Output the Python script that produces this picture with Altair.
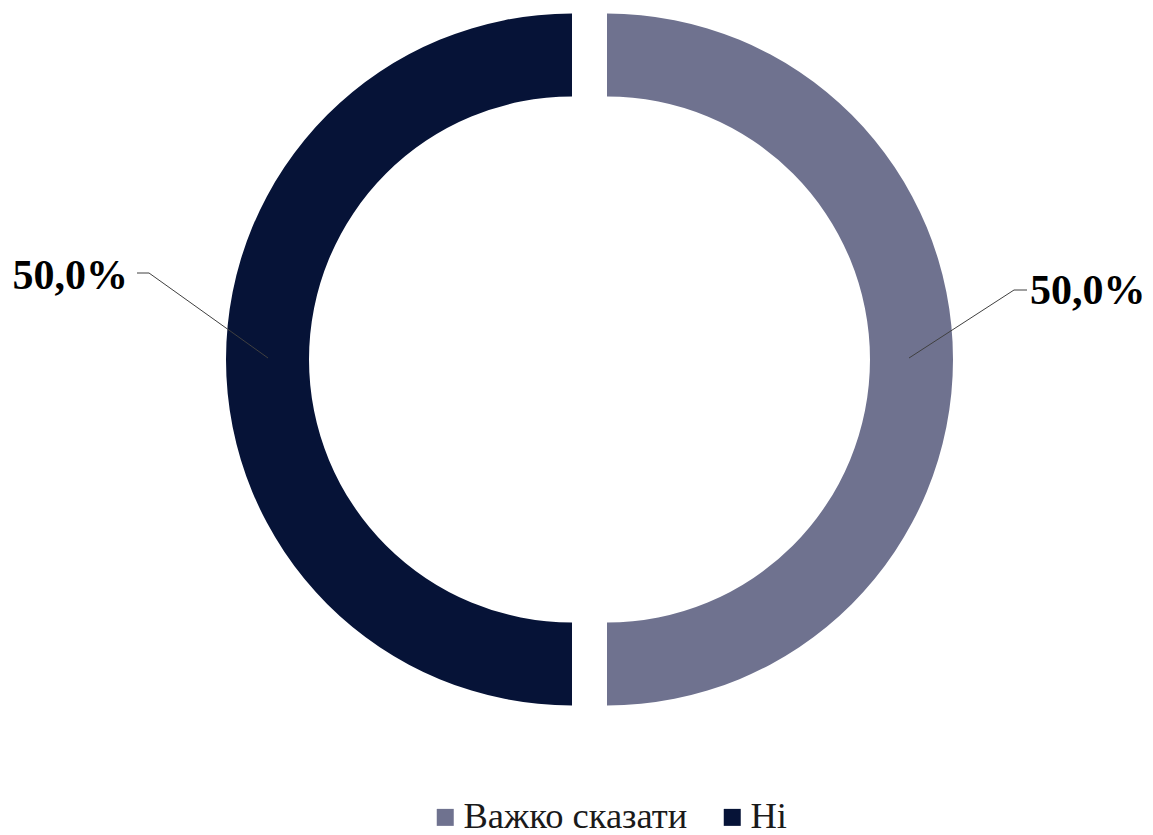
import altair as alt
import pandas as pd

categories = ["Важко сказати", "Ні"]
values = [50.0, 50.0]
labels = ["50,0%", "50,0%"]
colors = ["#6F728F", "#061337"]
order = [0, 1]

df = pd.DataFrame({"category": categories, "value": values, "label": labels, "order": order})

base = (
    alt.Chart(df)
    .transform_joinaggregate(total="sum(value)")
    .transform_calculate(pct="datum.value / datum.total")
    .transform_stack(stack="pct", groupby=[], as_=["start", "end"], sort=[alt.SortField("order")])
)

color = alt.Color(
    "category:N",
    scale=alt.Scale(domain=categories, range=colors),
    sort=categories,
    legend=alt.Legend(
        title=None,
        orient="none",
        direction="horizontal",
        legendX=419,
        legendY=791,
        symbolType="square",
        symbolSize=289,
        symbolStrokeWidth=0,
        labelFont="Liberation Serif",
        labelFontSize=36.5,
        labelColor="#1a1a1a",
        labelOffset=0,
        labelLimit=0,
        columnPadding=26,
        padding=0,
    ),
)

theta = alt.Theta("start:Q", scale=alt.Scale(domain=[0, 1]))
theta2 = alt.Theta2("end:Q")

cy = 351.5

arc_right = (
    base.transform_filter(alt.datum.category == categories[0])
    .mark_arc(innerRadius=263, outerRadius=346)
    .encode(theta=theta, theta2=theta2, color=color, x=alt.value(599), y=alt.value(cy))
)
arc_left = (
    base.transform_filter(alt.datum.category == categories[1])
    .mark_arc(innerRadius=263, outerRadius=346)
    .encode(theta=theta, theta2=theta2, color=color, x=alt.value(564), y=alt.value(cy))
)

line_color = "#404040"
right_data = base.transform_filter(alt.datum.category == categories[0])
left_data = base.transform_filter(alt.datum.category == categories[1])

lead_r1 = right_data.mark_rule(color=line_color, strokeWidth=1).encode(
    x=alt.value(901), y=alt.value(350), x2=alt.value(1006), y2=alt.value(282)
)
lead_r2 = right_data.mark_rule(color=line_color, strokeWidth=1).encode(
    x=alt.value(1006), y=alt.value(282), x2=alt.value(1019), y2=alt.value(282)
)
lead_l1 = left_data.mark_rule(color=line_color, strokeWidth=1).encode(
    x=alt.value(260), y=alt.value(350), x2=alt.value(141), y2=alt.value(265)
)
lead_l2 = left_data.mark_rule(color=line_color, strokeWidth=1).encode(
    x=alt.value(141), y=alt.value(265), x2=alt.value(129), y2=alt.value(265)
)

text_right = right_data.mark_text(
    font="Liberation Serif", fontSize=42, fontWeight="bold", align="left", baseline="alphabetic", color="#000000"
).encode(text="label:N", x=alt.value(1022), y=alt.value(296))
text_left = left_data.mark_text(
    font="Liberation Serif", fontSize=42, fontWeight="bold", align="right", baseline="alphabetic", color="#000000"
).encode(text="label:N", x=alt.value(120), y=alt.value(281))

chart = (
    alt.layer(arc_right, arc_left, lead_r1, lead_r2, lead_l1, lead_l2, text_right, text_left)
    .properties(width=1137, height=827, padding=0, autosize=alt.AutoSizeParams(type="none"))
    .configure_view(stroke=None)
)

chart.save("out.html", embed_options={"renderer": "svg", "actions": False})
